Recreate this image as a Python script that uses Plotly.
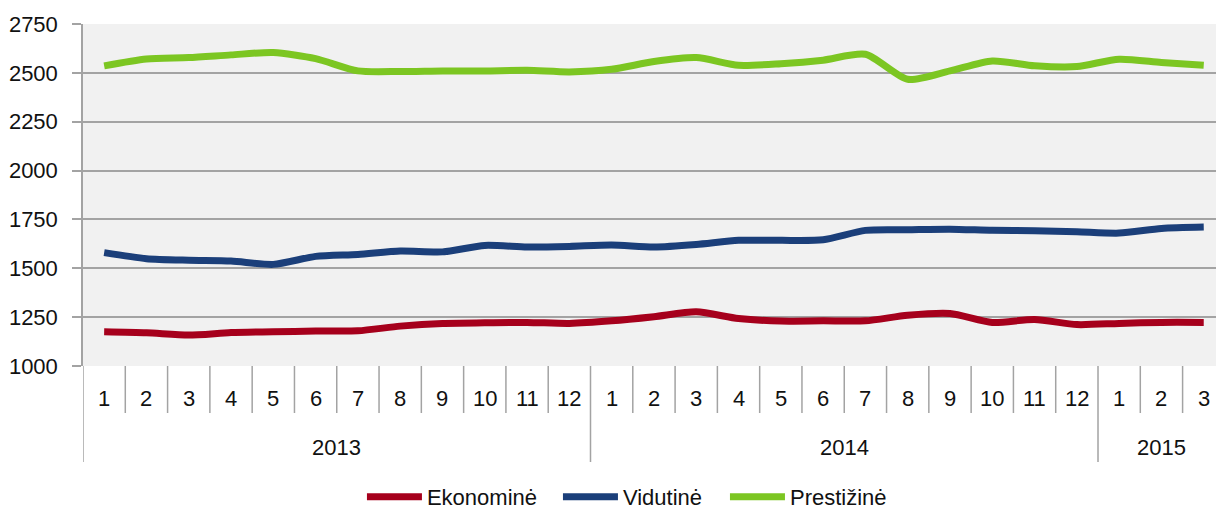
import plotly.graph_objects as go

# Monthly categories grouped by year
years = ["2013", "2014", "2015"]
months_per_year = [12, 12, 3]
month_labels = [str(m) for m in range(1, 13)] + [str(m) for m in range(1, 13)] + ["1", "2", "3"]

# Series values per month
ekonomine = [1175, 1170, 1158, 1171, 1175, 1179, 1180, 1204, 1218, 1221, 1223, 1218,
             1231, 1252, 1277, 1243, 1230, 1231, 1231, 1260, 1269, 1223, 1238, 1212,
             1218, 1223, 1223]
vidutine = [1580, 1549, 1541, 1537, 1520, 1561, 1571, 1588, 1584, 1617, 1609, 1612,
            1619, 1609, 1622, 1643, 1643, 1646, 1694, 1697, 1700, 1694, 1692, 1687,
            1680, 1704, 1711]
prestizine = [2536, 2571, 2578, 2592, 2604, 2573, 2510, 2507, 2510, 2510, 2513, 2505,
              2518, 2558, 2578, 2539, 2547, 2565, 2595, 2467, 2510, 2561, 2536, 2532,
              2570, 2553, 2539]

series = [
    ("Ekonominė", ekonomine, "#A6001C", "legend", 0.2462),
    ("Vidutinė", vidutine, "#1B3F7A", "legend2", 0.4192),
    ("Prestižinė", prestizine, "#7CC622", "legend3", 0.5666),
]

FONT = "Liberation Sans, Arial, sans-serif"
FS = 22
GRID = "#A3A3A3"
TXT = "#111111"
PLOT_H = 342
n = len(month_labels)
xs = list(range(n))

fig = go.Figure()
for name, vals, color, leg, _ in series:
    fig.add_trace(go.Scatter(
        x=xs, y=vals, name=name, mode="lines", legend=leg,
        line=dict(color=color, width=7, shape="spline", smoothing=0.7),
    ))

# Category boundary ticks below the axis; year boundaries run longer
year_edges = [-0.5]
acc = -0.5
for c in months_per_year:
    acc += c
    year_edges.append(acc)
shapes = []
for i in range(n):
    b = i - 0.5
    long = any(abs(b - e) < 1e-9 for e in year_edges)
    shapes.append(dict(
        type="line", xref="x", yref="paper", x0=b, x1=b,
        y0=0, y1=-96 / PLOT_H if long else -47 / PLOT_H,
        line=dict(color=GRID, width=1.5),
    ))

annotations = []
for i, lab in enumerate(month_labels):
    annotations.append(dict(
        x=i, y=0, xref="x", yref="paper", text=lab, showarrow=False,
        yanchor="middle", yshift=-32, font=dict(family=FONT, size=FS, color=TXT),
    ))
start = -0.5
for yr, c in zip(years, months_per_year):
    annotations.append(dict(
        x=start + c / 2, y=0, xref="x", yref="paper", text=yr, showarrow=False,
        yanchor="middle", yshift=-81, font=dict(family=FONT, size=FS, color=TXT),
    ))
    start += c

legend_style = dict(
    orientation="h", xanchor="left", y=(366 - 497) / PLOT_H, yanchor="middle",
    font=dict(family=FONT, size=FS, color=TXT), itemwidth=55,
    bgcolor="rgba(0,0,0,0)", borderwidth=0,
)
legends = {}
for _, _, _, leg, lx in series:
    legends[leg] = dict(legend_style, x=lx)

fig.update_layout(
    width=1216, height=510,
    margin=dict(l=83, r=0, t=24, b=144, autoexpand=False),
    paper_bgcolor="white", plot_bgcolor="#F1F1F1",
    font=dict(family=FONT, size=FS, color=TXT),
    showlegend=True,
    shapes=shapes,
    annotations=annotations,
    **legends,
)
fig.update_xaxes(
    range=[-0.5, 26.29], showgrid=False, zeroline=False,
    showticklabels=False, ticks="", showline=False,
)
fig.update_yaxes(
    range=[1000, 2750], dtick=250, tick0=1000,
    showgrid=True, gridcolor=GRID, gridwidth=1.5,
    zeroline=False, showline=True, linecolor=GRID, linewidth=1.5,
    ticks="outside", ticklen=9, tickcolor=GRID, tickwidth=1.5,
    ticklabelstandoff=10,
    tickfont=dict(family=FONT, size=FS, color=TXT),
)

fig.write_html("out.html")
